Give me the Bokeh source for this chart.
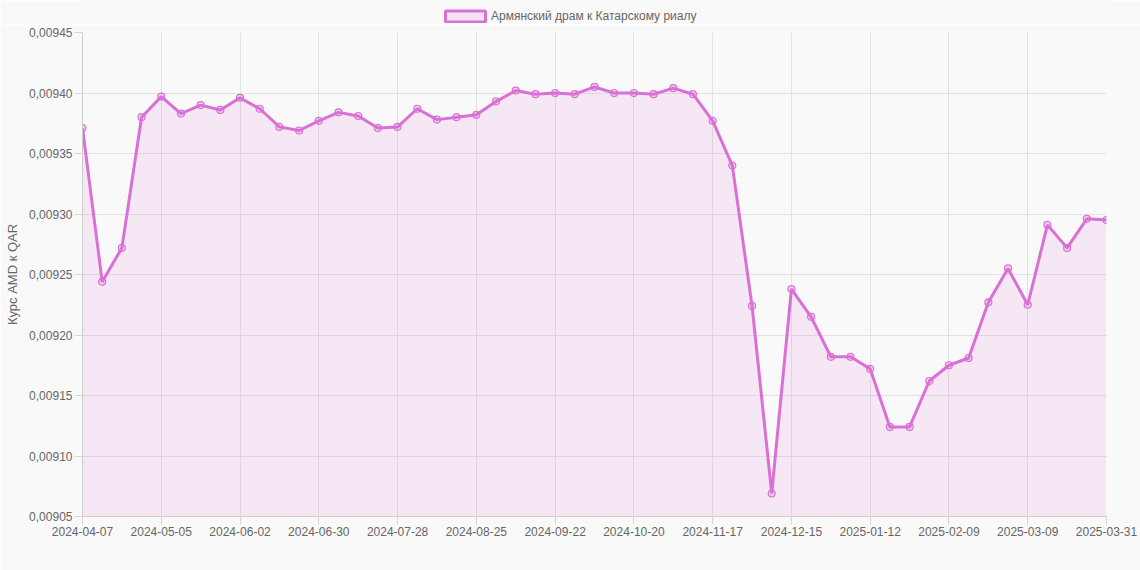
from bokeh.plotting import figure
from bokeh.layouts import column
from bokeh.models import Range1d, FixedTicker, CustomJSTickFormatter, Legend
from bokeh.embed import file_html
from bokeh.resources import INLINE

dates = [
    "2024-04-07", "2024-04-14", "2024-04-21", "2024-04-28", "2024-05-05", "2024-05-12",
    "2024-05-19", "2024-05-26", "2024-06-02", "2024-06-09", "2024-06-16", "2024-06-23",
    "2024-06-30", "2024-07-07", "2024-07-14", "2024-07-21", "2024-07-28", "2024-08-04",
    "2024-08-11", "2024-08-18", "2024-08-25", "2024-09-01", "2024-09-08", "2024-09-15",
    "2024-09-22", "2024-09-29", "2024-10-06", "2024-10-13", "2024-10-20", "2024-10-27",
    "2024-11-03", "2024-11-10", "2024-11-17", "2024-11-24", "2024-12-01", "2024-12-08",
    "2024-12-15", "2024-12-22", "2024-12-29", "2025-01-05", "2025-01-12", "2025-01-19",
    "2025-01-26", "2025-02-02", "2025-02-09", "2025-02-16", "2025-02-23", "2025-03-02",
    "2025-03-09", "2025-03-16", "2025-03-23", "2025-03-30", "2025-03-31",
]
rates = [
    0.009371, 0.009244, 0.009272, 0.009380, 0.009397, 0.009383,
    0.009390, 0.009386, 0.009396, 0.009387, 0.009372, 0.009369,
    0.009377, 0.009384, 0.009381, 0.009371, 0.009372, 0.009387,
    0.009378, 0.009380, 0.009382, 0.009393, 0.009402, 0.009399,
    0.009400, 0.009399, 0.009405, 0.009400, 0.009400, 0.009399,
    0.009404, 0.009399, 0.009377, 0.009340, 0.009224, 0.009069,
    0.009238, 0.009215, 0.009182, 0.009182, 0.009172, 0.009124,
    0.009124, 0.009162, 0.009175, 0.009181, 0.009227, 0.009255,
    0.009225, 0.009291, 0.009272, 0.009296, 0.009295,
]
y_ticks = [0.00905, 0.00910, 0.00915, 0.00920, 0.00925, 0.00930, 0.00935, 0.00940, 0.00945]
series_name = "Армянский драм к Катарскому риалу"
y_title = "Курс AMD к QAR"

idx = list(range(len(dates)))
x_tick_idx = idx[::4]

COLOR = "#DA70D6"
BG = "#f9f9f9"
GRID = "#e2e2e2"
TXT = "#666666"
FONT = "Liberation Sans"

# legend strip above the chart (its frame is aligned with the chart frame)
lg = figure(width=1140, height=24, output_backend="svg", toolbar_location=None,
            x_axis_type=None, y_axis_type=None, x_range=Range1d(0, 1), y_range=Range1d(0, 1),
            min_border_left=0, min_border_right=0, min_border_top=0, min_border_bottom=0)
lg.background_fill_color = BG
lg.border_fill_color = BG
lg.outline_line_color = None
lg.grid.visible = False
# legend proxy (kept outside the visible range of the strip)
sw = lg.rect(x=[-5], y=[-5], width=1, height=1, fill_color=COLOR, fill_alpha=0.15,
             line_color=COLOR, line_width=3)
legend = Legend(items=[(series_name, [sw])], location=(358, 1), orientation="horizontal",
                glyph_width=50, glyph_height=14, label_text_font=FONT, label_text_font_size="12px",
                label_text_color=TXT, background_fill_alpha=0, border_line_color=None,
                padding=0, margin=0, label_height=14, label_standoff=1)
lg.add_layout(legend, "center")

p = figure(width=1140, height=546, output_backend="svg", toolbar_location=None,
           x_range=Range1d(0, len(dates) - 1), y_range=Range1d(y_ticks[0], y_ticks[-1]),
           min_border_left=82, min_border_right=34, min_border_top=8, min_border_bottom=54)
p.background_fill_color = BG
p.border_fill_color = BG
p.outline_line_color = None

p.varea(x=idx, y1=[y_ticks[0]] * len(idx), y2=rates, fill_color=COLOR, fill_alpha=0.12)
p.line(idx, rates, line_color=COLOR, line_width=3)
p.scatter(idx, rates, size=7, line_color=COLOR, line_width=1.2, fill_color=COLOR, fill_alpha=0.25)

p.xaxis.ticker = FixedTicker(ticks=x_tick_idx)
p.xaxis.major_label_overrides = {i: dates[i] for i in x_tick_idx}
p.yaxis.ticker = FixedTicker(ticks=y_ticks)
p.yaxis.formatter = CustomJSTickFormatter(code="return tick.toFixed(5).replace('.', ',');")
p.yaxis.axis_label = y_title

for ax in (p.xaxis, p.yaxis):
    ax.axis_line_color = "#cccccc"
    ax.major_tick_line_color = "#d6d6d6"
    ax.major_tick_in = 0
    ax.major_tick_out = 8
    ax.minor_tick_line_color = None
    ax.major_label_text_font = FONT
    ax.major_label_text_font_size = "12px"
    ax.major_label_text_color = TXT
    ax.major_label_standoff = 2
p.yaxis.axis_label_text_font = FONT
p.yaxis.axis_label_text_font_size = "13px"
p.yaxis.axis_label_text_color = TXT
p.yaxis.axis_label_text_font_style = "normal"
p.yaxis.axis_label_standoff = 6

p.xgrid.ticker = FixedTicker(ticks=x_tick_idx)
p.xgrid.grid_line_color = GRID
p.ygrid.grid_line_color = GRID

layout = column(lg, p, spacing=0)
html = file_html(layout, INLINE)
html = html.replace("<body>", "<body style=\"background:%s\">" % BG, 1)
open("out.html", "w").write(html)
